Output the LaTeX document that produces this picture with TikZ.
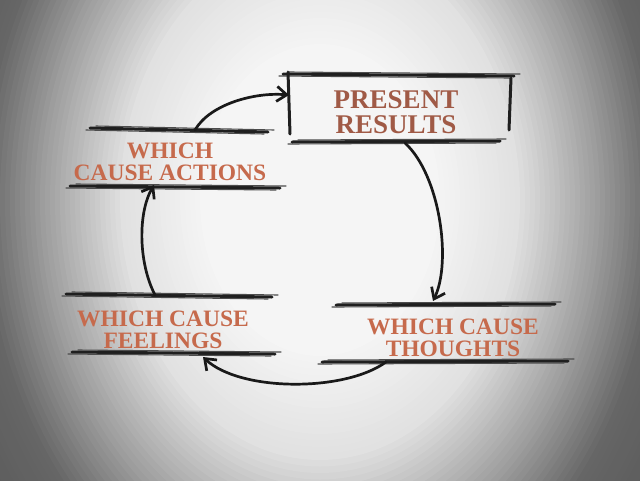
\documentclass[tikz,border=0pt]{standalone}
\usepackage{fontspec}
\setmainfont{Liberation Serif}
\usetikzlibrary{arrows.meta}
\definecolor{txt}{RGB}{198,106,76}
\definecolor{txtp}{RGB}{160,90,70}
\tikzset{
  brush/.style={line width=3pt, line cap=round, black!88},
  brushthin/.style={line width=1.1pt, line cap=round, black!70},
  lbl/.style={text=txt, font=\bfseries\fontsize{23.5}{21}\selectfont, inner sep=0pt, anchor=base},
  lblp/.style={text=txtp, font=\bfseries\fontsize{27}{25}\selectfont, inner sep=0pt, anchor=base},
  cyc/.style={line width=2.7pt, black!90, line cap=round, -{Straight Barb[length=10pt,width=15pt,line width=2.7pt]}}
}
\newcommand\brushline[4]{%
  \draw[brush] (#1,#2) -- (#3,#4);
  \draw[brushthin,shift={(6,-2)}] (#1,#2) -- (#3,#4);
  \draw[brushthin,shift={(-4,2)}] (#1,#2) -- (#3,#4);
}
\begin{document}
\begin{tikzpicture}[x=1pt,y=-1pt]
\useasboundingbox (0,0) rectangle (640,480);
\begin{scope}
\clip (0,0) rectangle (640,480);
\fill[black!68] (0,0) rectangle (640,480);
\foreach \r in {470,465,...,0}{
  \pgfmathtruncatemacro\g{\r<120 ? 245 : (\r<200 ? 245-(\r-120)/80*20 : (\r<280 ? 225-(\r-200)/80*68 : (\r<340 ? 157-(\r-280)/60*55 : 102-(\r-340)/130*20)))}
  \definecolor{bgtmp}{RGB}{\g,\g,\g}
  \fill[bgtmp] (320,200) ellipse [x radius=\r, y radius=1.3*\r];
}
\end{scope}

% text nodes (one per printed line)
\node[lblp] (present1) at (396,108) {PRESENT};
\node[lblp] (present2) at (396,133) {RESULTS};
\node[lbl] (actions1) at (170,158) {WHICH};
\node[lbl] (actions2) at (170,180) {CAUSE ACTIONS};
\node[lbl] (feelings1) at (163,326) {WHICH CAUSE};
\node[lbl] (feelings2) at (163,348) {FEELINGS};
\node[lbl] (thoughts1) at (453,334) {WHICH CAUSE};
\node[lbl] (thoughts2) at (453,356) {THOUGHTS};

% present box
\brushline{283}{74}{514}{76}
\brushline{292}{142}{500}{141}
\draw[brush] (288,72) -- (290,134);
\draw[brush] (511,78) -- (509,130);
% actions
\brushline{90}{128}{268}{132}
\brushline{70}{186}{280}{188}
% feelings
\brushline{66}{294}{272}{297}
\brushline{72}{352}{275}{354}
% thoughts
\brushline{336}{305}{555}{304}
\brushline{322}{362}{568}{361}

% connector endpoints
\coordinate (a1) at (195,130);
\coordinate (a2) at (289,95);
\coordinate (p1) at (405,143);
\coordinate (p2) at (433,301);
\coordinate (t1) at (386,362);
\coordinate (t2) at (203,357);
\coordinate (f1) at (155,295);
\coordinate (f2) at (154,185);

\draw[cyc] (a1) .. controls (210,104) and (255,92) .. (a2);
\draw[cyc] (p1) .. controls (440,175) and (452,262) .. (p2);
\draw[cyc] (t1) .. controls (345,392) and (240,392) .. (t2);
\draw[cyc] (f1) .. controls (138,262) and (138,212) .. (f2);
\end{tikzpicture}
\end{document}
